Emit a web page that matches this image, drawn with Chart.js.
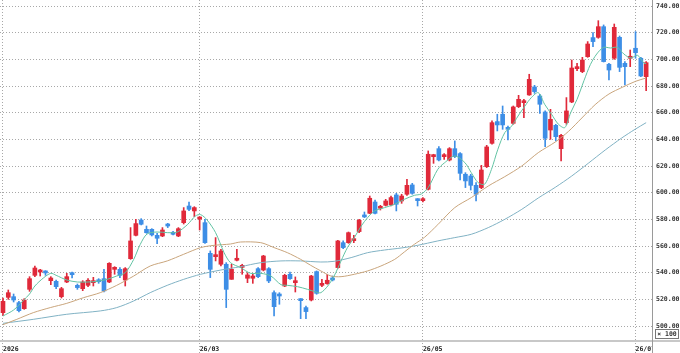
<!DOCTYPE html>
<html>
<head>
<meta charset="utf-8">
<script src="https://cdn.jsdelivr.net/npm/chart.js@4"></script>
<style>
  html, body { margin: 0; padding: 0; background: #fff; }
  #wrap { width: 680px; height: 353px; }
</style>
</head>
<body>
<div id="wrap"><canvas id="chart" width="680" height="353"></canvas></div>
<script>
// Daily candles, index 0 = first trading day of 2026 ------------------------
const opens = [
  510, 521.5, 522, 517.5, 513, 527.5, 538, 540.5, 541, 534,
  533.5, 522, 533, 539.5, 530.5, 528, 530.5, 532.5, 534.2, 535.5,
  533, 542.5, 542.5, 534.5, 550.5, 568, 579.5, 572.5, 572.5, 568,
  567.5, 576, 570, 567.5, 577.5, 590, 586.3, 580.2, 577.5, 554.5,
  552, 546.3, 546.3, 535, 549.3, 544, 535.8, 535.8, 543, 542,
  543, 525, 523.8, 530, 538.8, 532.5, 520, 513.8, 519.5, 540.8,
  530.5, 531.8, 536, 543.8, 562.5, 562.5, 564, 570.8, 583, 584.5,
  593, 588.3, 590.5, 590.8, 598.3, 593.8, 598.8, 605.8, 595, 594,
  602.5, 627, 633, 627, 624.5, 633, 629.3, 613.8, 612.5, 605.5,
  603.8, 619.5, 637, 653.3, 658.8, 648.5, 652, 664.5, 667.5, 673.3,
  679.3, 672.5, 660.5, 647, 650.5, 633, 652.5, 668, 693, 690.8,
  702, 716.3, 716.5, 724.5, 696.3, 700.8, 716.5, 697, 700.8, 708.3,
  700.8, 687
];
const highs = [
  521, 527, 524, 518.5, 520.5, 537, 545, 542.5, 541.5, 537,
  534.5, 529, 539.5, 540.5, 531.5, 534, 535.5, 536.5, 535.5, 542.5,
  547.5, 544.5, 543.8, 543.8, 573.8, 580, 580.5, 575, 573, 569.5,
  573.8, 577, 571, 573.8, 588.8, 593, 589.5, 582, 580, 556.3,
  566.3, 557.5, 547.5, 546.3, 557.5, 546.3, 540, 538.8, 543.8, 553,
  543.8, 526.3, 525, 538.8, 540.5, 536.8, 520.5, 515, 538, 541.3,
  535, 538.8, 537.5, 564.3, 563.8, 570.5, 568, 580, 585.5, 597.5,
  594.5, 590.5, 595, 597.5, 599.5, 598.8, 610, 607, 595.5, 596.3,
  631.3, 628.8, 634.5, 629.3, 633.8, 638.8, 630, 615, 613.8, 607.5,
  620.5, 635.5, 653.8, 658.8, 665, 650, 665, 673, 670, 688.8,
  680.5, 673.8, 661.3, 662.5, 651.3, 643.8, 671.3, 699.5, 697, 701.5,
  713.3, 720, 729, 725.8, 697, 726.5, 717.5, 698.3, 707, 720.8,
  701.5, 698.3
];
const lows = [
  508, 520, 518, 510.5, 512.5, 526, 537, 537.5, 538, 531,
  528, 521, 532.5, 536, 527.5, 526.5, 529.5, 530, 532, 525.5,
  532.5, 538.8, 536.3, 530, 550, 567.5, 575.8, 569.5, 567.5, 561.8,
  567, 573.8, 568.3, 567, 576.5, 586.5, 582, 572, 562, 536.3,
  548.8, 545, 513.8, 535, 548.8, 538.8, 532.5, 532, 536.3, 541.3,
  532.5, 507.5, 516.3, 529.5, 535, 525.5, 505.5, 505.5, 518.8, 523.8,
  529.5, 531.3, 533.8, 543.3, 558, 562, 562.5, 570, 581.3, 584.3,
  584, 587, 590, 590, 586.3, 592, 598, 598.8, 590, 593,
  602, 622, 623.8, 625, 623.8, 626.3, 609.5, 603.8, 602, 593.8,
  603, 618.8, 636.3, 646.3, 647.5, 639.5, 651.3, 663.8, 656.3, 673,
  674.5, 659.5, 634.5, 640, 638.8, 623.8, 651.3, 667.5, 691.5, 690,
  701.5, 709.5, 715.8, 698, 684.5, 700, 690.8, 680.8, 694.5, 700.8,
  687, 676.5
];
const closes = [
  518.5, 525, 519.5, 511.5, 519.5, 535.5, 543.5, 541.5, 539.8, 536,
  529.5, 528, 537, 538.5, 528.8, 533, 534.3, 533.5, 533.2, 526.3,
  547, 543.5, 538, 543, 563.8, 576.8, 576.3, 570, 568.3, 565.8,
  572, 575, 568.8, 573, 586.3, 587.5, 588.8, 581.2, 562.5, 542.5,
  553, 556.3, 527.5, 542.5, 550.3, 545, 538.3, 537.5, 537, 552.5,
  533.8, 514.5, 522.5, 538, 535.5, 533.8, 519, 510.8, 537.5, 524.5,
  531.8, 534.3, 534.5, 563.8, 558.8, 570, 565, 579.3, 581.8, 595.8,
  584.5, 589.3, 593.8, 596.3, 591.3, 597.5, 605.5, 599.5, 594, 595,
  628.8, 628, 624.5, 628, 633, 627, 614.5, 608.8, 605.5, 598.8,
  617, 634.3, 652.5, 650.8, 650.8, 647.5, 664.3, 670, 668.5, 685,
  675.8, 666.3, 640.8, 655, 642, 643, 661.3, 693.5, 694, 699.5,
  711.5, 713.3, 724.5, 698.3, 692, 724, 694, 694.5, 701.8, 705,
  687.5, 697.5
];

// Moving averages: [day index, price] ----------------------------------------
const ma5 = [
  [0, 507.5], [2, 512], [3.8, 519], [5, 524], [6, 530], [7.6, 536], [9, 539.5],
  [10, 538], [12, 534.5], [14, 533], [16, 533], [17.7, 533.5], [19.6, 535],
  [21.4, 537.5], [23, 540], [24.6, 550], [25.8, 561], [27.1, 569], [29, 570.5],
  [31, 570], [32.8, 570.5], [34.7, 576], [36.2, 582.5], [37.2, 583.5],
  [38.4, 579.5], [40, 570], [41.6, 555], [42.8, 547.5], [44.7, 543.8],
  [46.6, 539.5], [48.5, 539.5], [50.4, 537.5], [52.3, 531], [53.5, 530.5],
  [55.4, 529.5], [57.3, 527.5], [58.9, 525.5], [59.8, 525], [61.1, 530],
  [62.3, 537.5], [63.6, 548.8], [64.8, 558.8], [66.1, 566.3], [67.4, 575],
  [68.6, 581.3], [69.9, 586.3], [71.8, 588.8], [73.7, 591.3], [75.5, 595],
  [77.4, 598], [78.7, 599], [80, 603.8], [81.8, 617.5], [83.1, 622.5],
  [85, 627.5], [86.9, 622.5], [88.1, 615], [89.4, 607.5], [90.6, 606.3],
  [91.9, 617.5], [93.1, 632.5], [94.4, 645], [95.7, 650], [96.9, 657.5],
  [98.2, 665], [99.4, 671.3], [100.7, 675], [101.9, 666.3], [103.2, 658.8],
  [104.5, 651.3], [105.7, 648.8], [106.8, 660], [108, 670], [109.3, 684],
  [110.5, 696], [111.7, 704], [113, 709], [114.3, 708.5], [115.6, 709],
  [116.8, 704], [118.1, 701], [119.4, 703], [120.6, 697], [121, 697]
];
const ma25 = [
  [0, 501], [2.6, 505], [5.7, 510], [8.9, 513.8], [12, 517], [15.2, 521.3],
  [18.3, 525], [21.4, 530.5], [24.6, 537.5], [27.7, 545], [30.9, 548.8],
  [34, 553.8], [37.2, 558.8], [39.7, 560.5], [42.8, 561.5], [44.7, 563],
  [48.5, 562.5], [51, 558.8], [53.5, 555], [56, 550], [57.9, 545.5],
  [59.8, 541.3], [61.7, 537.5], [63.6, 537], [66.1, 538.8], [68.6, 541.3],
  [71.1, 545], [73.7, 550], [75.5, 555.5], [77.4, 561.3], [79.3, 566.5],
  [81.8, 576], [85, 588.8], [88.1, 596.3], [91.3, 605], [94.4, 612],
  [97.6, 620], [100.7, 630], [103.9, 638], [106.4, 646], [108.9, 656],
  [111.4, 666], [114, 674], [116.5, 679], [119, 683.5], [121, 686]
];
const ma75 = [
  [0, 502], [5.7, 505], [12, 508.8], [18.3, 511.3], [21.4, 513.8],
  [24.6, 518.8], [27.7, 525], [30.9, 530.5], [34, 535], [37.2, 538.8],
  [41, 542], [44.7, 544.5], [48.5, 547.5], [52.3, 548.8], [56, 548.8],
  [59.8, 548], [62.3, 548.5], [65.5, 551.3], [68.6, 555], [71.8, 557],
  [74.9, 558.5], [78, 560.5], [81.8, 563.8], [85, 566.3], [88.1, 568.8],
  [91.3, 573.8], [94.4, 580], [97.6, 587.5], [100.7, 596], [103.9, 604],
  [107, 612.5], [110.1, 622], [113.3, 632], [116.4, 641], [118.9, 647.5],
  [121, 652.5]
];

// Axis ticks ----------------------------------------------------------------
const xTickIdx = [0, 37, 79, 119];
const xTickLabels = ['2026', '26/03', '26/05', '26/07'];
const yTickValues = [500, 520, 540, 560, 580, 600, 620, 640, 660, 680, 700, 720, 740];

const UP = '#e0293a';
const DOWN = '#3d8ee6';
const labelFont = { family: 'DejaVu Sans Mono', size: 6.5, weight: 'bold' };

const candleColors = opens.map((o, i) => closes[i] >= o ? UP : DOWN);

// Frame, unit box and clipped label area -----------------------------------
const framePlugin = {
  id: 'frame',
  afterDraw(chart) {
    const ctx = chart.ctx;
    const area = chart.chartArea;
    ctx.save();
    ctx.fillStyle = '#fff';
    ctx.fillRect(area.right + 1, area.bottom + 1, 680 - area.right, 353 - area.bottom);
    ctx.strokeStyle = '#c8c8c8';
    ctx.lineWidth = 2;
    ctx.beginPath();
    ctx.moveTo(0, area.bottom + 1);
    ctx.lineTo(680, area.bottom + 1);
    ctx.stroke();
    ctx.strokeStyle = '#9a9a9a';
    ctx.lineWidth = 1;
    ctx.beginPath();
    ctx.moveTo(area.right + 0.5, 0);
    ctx.lineTo(area.right + 0.5, 353);
    ctx.stroke();
    // "x 100" unit box
    ctx.strokeStyle = '#777';
    ctx.strokeRect(655.5, 329.5, 23, 9);
    ctx.fillStyle = '#333';
    ctx.font = 'bold 6.5px "DejaVu Sans Mono"';
    ctx.textAlign = 'center';
    ctx.textBaseline = 'middle';
    ctx.fillText('\u00d7 100', 667, 334.5);
    ctx.restore();
  }
};

function maSet(points, color) {
  return {
    type: 'line',
    data: points.map(p => ({ x: p[0], y: p[1] })),
    borderColor: color,
    borderWidth: 1,
    pointRadius: 0,
    tension: 0.3,
    order: 0
  };
}

new Chart(document.getElementById('chart').getContext('2d'), {
  type: 'bar',
  data: {
    datasets: [
      maSet(ma5, '#62c3a3'),
      maSet(ma25, '#c9a57c'),
      maSet(ma75, '#80b2c4'),
      {
        type: 'bar',
        data: opens.map((o, i) => ({ x: i, y: [o, closes[i]] })),
        backgroundColor: candleColors,
        barThickness: 4,
        minBarLength: 2,
        grouped: false,
        borderWidth: 0,
        order: 1
      },
      {
        type: 'bar',
        data: lows.map((l, i) => ({ x: i, y: [l, highs[i]] })),
        backgroundColor: candleColors,
        barThickness: 1,
        grouped: false,
        borderWidth: 0,
        order: 2
      }
    ]
  },
  options: {
    responsive: false,
    animation: false,
    layout: { padding: 0 },
    plugins: {
      legend: { display: false },
      tooltip: { enabled: false }
    },
    scales: {
      x: {
        type: 'linear',
        min: -0.56,
        max: 122.1,
        bounds: 'data',
        offset: false,
        grid: {
          offset: false,
          color: '#a8a8a8',
          drawTicks: true,
          tickLength: 13,
          tickColor: '#a8a8a8',
          tickBorderDash: [1, 2]
        },
        border: { display: false, dash: [1, 2] },
        ticks: {
          autoSkip: false,
          maxRotation: 0,
          align: 'start',
          padding: -8,
          color: '#222',
          font: labelFont,
          callback: (v, i) => xTickLabels[i]
        },
        afterBuildTicks: s => { s.ticks = xTickIdx.map(v => ({ value: v })); },
        afterFit: s => {
          s.height = 13;
          s.paddingLeft = 0;
          s.paddingRight = 0;
        }
      },
      y: {
        type: 'linear',
        position: 'right',
        min: 489.5,
        max: 744.5,
        bounds: 'data',
        grid: { color: '#a8a8a8', drawTicks: false },
        border: { display: false, dash: [1, 2] },
        ticks: {
          padding: 4,
          color: '#333',
          font: labelFont,
          callback: v => v.toFixed(2)
        },
        afterBuildTicks: s => { s.ticks = yTickValues.map(v => ({ value: v })); },
        afterFit: s => {
          s.width = 28;
          s.paddingTop = 0;
          s.paddingBottom = 0;
        }
      }
    }
  },
  plugins: [framePlugin]
});
</script>
</body>
</html>
